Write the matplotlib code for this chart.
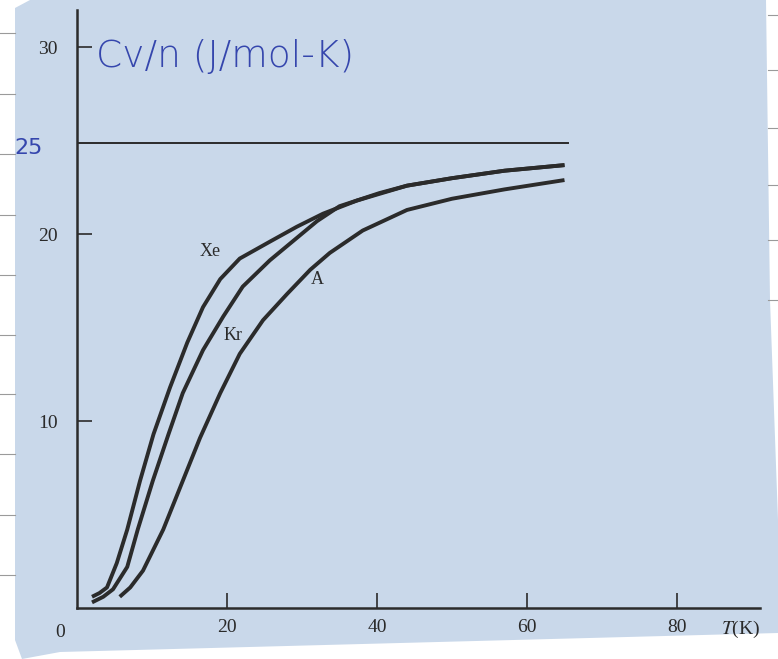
import matplotlib
matplotlib.use("Agg")
import matplotlib.pyplot as plt
from matplotlib.patches import Polygon
from matplotlib.lines import Line2D

# heat capacity curves, T in K, Cv/n in J/(mol K)
xe_t = [2, 3, 4, 5.3, 6.7, 8.4, 10.2, 12.4, 14.7, 16.8, 19.1, 21.7, 25.7, 29.3, 32.8, 37.3, 44, 50, 57, 65]
xe_c = [0.6, 0.8, 1.1, 2.4, 4.2, 6.8, 9.3, 11.8, 14.2, 16.1, 17.6, 18.7, 19.6, 20.4, 21.1, 21.8, 22.6, 23.0, 23.4, 23.7]

kr_t = [2, 3.5, 4.8, 6.7, 8.1, 10.1, 12.2, 14.1, 16.8, 19.5, 22.1, 25.7, 29.3, 32, 35, 40.3, 44, 50, 57, 65]
kr_c = [0.3, 0.6, 1.0, 2.2, 4.2, 6.8, 9.3, 11.5, 13.8, 15.6, 17.2, 18.6, 19.8, 20.7, 21.5, 22.2, 22.6, 23.0, 23.4, 23.7]

ar_t = [5.7, 7.1, 8.8, 11.5, 14.1, 16.4, 19.1, 21.7, 24.8, 28, 31.1, 33.7, 38.1, 44, 50, 57, 65]
ar_c = [0.6, 1.1, 2.0, 4.2, 6.8, 9.1, 11.5, 13.6, 15.4, 16.8, 18.1, 19.0, 20.2, 21.3, 21.9, 22.4, 22.9]

dulong_petit = 24.9
dp_t = [0, 65.5]

x_ticks = [20, 40, 60, 80]
y_ticks = [10, 20, 30]

W, H = 778, 659
ink = "#2b2b2b"
pen = "#3546ad"
paper = "#c9d8ea"

fig = plt.figure(figsize=(W / 100, H / 100), dpi=100)
fig.patch.set_facecolor("white")

def px(x, y):
    return (x / W, 1 - y / H)

# scanned sheet on ruled notebook paper
sheet = [(15, 8), (30, 0), (766, 0), (770, 300), (778, 520), (778, 633), (60, 652), (22, 659), (15, 640)]
fig.add_artist(Polygon([px(x, y) for x, y in sheet], closed=True, transform=fig.transFigure,
                       facecolor=paper, edgecolor="none", zorder=0))
for y in [33, 94, 154, 215, 275, 335, 394, 454, 515, 575]:
    fig.add_artist(Line2D([0, 15 / W], [1 - y / H] * 2, transform=fig.transFigure, color="#9a9a9a", lw=0.8))
for y in [15, 70, 128, 185, 240, 300]:
    fig.add_artist(Line2D([768 / W, 1], [1 - y / H] * 2, transform=fig.transFigure, color="#9a9a9a", lw=0.8))

ax = fig.add_axes([77 / W, 1 - 608 / H, 91 * 7.5 / W, 598 / H])
ax.set_facecolor("none")
ax.set_xlim(0, 91)
ax.set_ylim(0, 32)

ax.plot(dp_t, [dulong_petit] * 2, color=ink, lw=1.4)
ax.plot(xe_t, xe_c, color=ink, lw=2.8, solid_capstyle="butt", solid_joinstyle="round")
ax.plot(kr_t, kr_c, color=ink, lw=2.8, solid_capstyle="butt", solid_joinstyle="round")
ax.plot(ar_t, ar_c, color=ink, lw=2.8, solid_capstyle="butt", solid_joinstyle="round")

serif = "Liberation Serif"
ax.text(17.7, 19.1, "Xe", fontsize=13, family=serif, color=ink, ha="center", va="center")
ax.text(20.8, 14.6, "Kr", fontsize=13, family=serif, color=ink, ha="center", va="center")
ax.text(32.1, 17.6, "A", fontsize=13, family=serif, color=ink, ha="center", va="center")

for side in ["top", "right"]:
    ax.spines[side].set_visible(False)
for side in ["left", "bottom"]:
    ax.spines[side].set_linewidth(1.8)
    ax.spines[side].set_color(ink)

ax.set_xticks(x_ticks)
ax.set_xticklabels([str(v) for v in x_ticks])
ax.set_yticks(y_ticks)
ax.set_yticklabels([str(v) for v in y_ticks])
ax.tick_params(direction="in", length=11, width=1.2, color=ink, labelsize=14, labelcolor="#2a2a2a")
ax.tick_params(axis="y", pad=14)
ax.tick_params(axis="x", pad=8)
for lab in ax.get_xticklabels() + ax.get_yticklabels():
    lab.set_family(serif)

ax.text(-2.3, -1.3, "0", fontsize=14, family=serif, color="#2a2a2a", ha="center", va="center", clip_on=False)
ax.text(88.5, -0.6, "$T$(K)", fontsize=14, family=serif, color="#2a2a2a", ha="center", va="top",
        clip_on=False, math_fontfamily="stix")

# handwritten notes in blue ink
ax.text(2.5, 29.5, "Cv/n (J/mol-K)", fontsize=27, color=pen, ha="left", va="center",
        family="DejaVu Sans", fontweight="light", clip_on=False)
ax.text(-6.5, 24.6, "25", fontsize=16, color=pen, ha="center", va="center", clip_on=False)

fig.savefig("out.png", dpi=100, facecolor=fig.get_facecolor())
